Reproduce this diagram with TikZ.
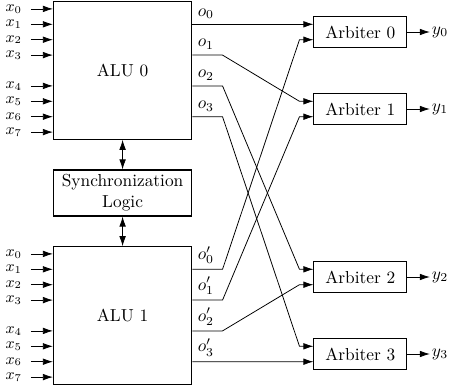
\documentclass[tikz,border=0pt]{standalone}
\usetikzlibrary{arrows.meta}
\begin{document}
\begin{tikzpicture}[x=0.5764pt,y=-0.5764pt,
  box/.style={draw,line width=0.6pt,inner sep=0pt},
  alubox/.style={box,minimum width=79.7pt,minimum height=79.2pt},
  arbbox/.style={box,minimum width=53.4pt,minimum height=17.8pt},
  wire/.style={line width=0.45pt},
  arr/.style={wire,-{Latex[length=5.8pt,width=3.8pt]}},
  darr/.style={wire,{Latex[length=5.8pt,width=3.8pt]}-{Latex[length=5.8pt,width=3.8pt]}},
  inlab/.style={anchor=east,inner sep=1pt,font=\small},
  outlab/.style={anchor=south west,inner sep=3pt},
  ylab/.style={anchor=west,inner sep=1pt}]
\useasboundingbox (0,0) rectangle (451,390);
% main blocks
\node[alubox] (alu0) at (122.6,70.5) {ALU 0};
\node[box,minimum width=79.7pt,minimum height=26.5pt,align=center] (sync) at (122.6,193) {Synchronization\\Logic};
\node[alubox] (alu1) at (122.6,315.5) {ALU 1};
% arbiters
\node[arbbox] (arb0) at (360.3,32.0) {Arbiter 0};
\node[arbbox] (arb1) at (360.3,109.0) {Arbiter 1};
\node[arbbox] (arb2) at (360.3,277.0) {Arbiter 2};
\node[arbbox] (arb3) at (360.3,354.0) {Arbiter 3};
% sync arrows
\draw[darr] (alu0.south) -- (sync.north);
\draw[darr] (sync.south) -- (alu1.north);
% inputs
\foreach \k/\n in {0/0,1/1,2/2,3/3,5/4,6/5,7/6,8/7}{
  \coordinate (ia\n) at (31,{70.5+(\k-4)*15.4});
  \node[inlab] (xa\n) at (24,{70.5+(\k-4)*15.4}) {$x_{\n}$};
  \draw[arr] (ia\n) -- (alu0.west |- ia\n);
  \coordinate (ib\n) at (31,{315.5+(\k-4)*15.4});
  \node[inlab] (xb\n) at (24,{315.5+(\k-4)*15.4}) {$x_{\n}$};
  \draw[arr] (ib\n) -- (alu1.west |- ib\n);
}
% output points and labels
\foreach \i/\k in {0/1,1/3,2/5,3/7}{
  \path (alu0.east) ++(0,{(\k-4)*15.4}) coordinate (oa\i);
  \node[outlab] (loa\i) at (oa\i) {$o_{\i}$};
  \path (oa\i) ++(30.3,0) coordinate (ba\i);
  \path (alu1.east) ++(0,{(\k-4)*15.4}) coordinate (ob\i);
  \node[outlab] (lob\i) at (ob\i) {$o'_{\i}$};
  \path (ob\i) ++(30.3,0) coordinate (bb\i);
}
% arbiter inputs and outputs
\foreach \j in {0,1,2,3}{
  \path (arb\j.west) ++(0,-7.7) coordinate (in\j a);
  \path (arb\j.west) ++(0,7.7) coordinate (in\j b);
  \path (in\j a) ++(-14,0) coordinate (pa\j);
  \path (in\j b) ++(-14,0) coordinate (pb\j);
  \node[ylab] (y\j) at ([xshift=13.1pt]arb\j.east) {$y_{\j}$};
  \draw[arr] (arb\j.east) -- (y\j.west);
}
% crossbar wiring
\draw[arr] (oa0) -- (in0a);
\draw[arr] (oa1) -- (ba1) -- (pa1) -- (in1a);
\draw[arr] (oa2) -- (ba2) -- (pa2) -- (in2a);
\draw[arr] (oa3) -- (ba3) -- (pa3) -- (in3a);
\draw[arr] (ob0) -- (bb0) -- (pb0) -- (in0b);
\draw[arr] (ob1) -- (bb1) -- (pb1) -- (in1b);
\draw[arr] (ob2) -- (bb2) -- (pb2) -- (in2b);
\draw[arr] (ob3) -- (in3b);
\end{tikzpicture}
\end{document}
